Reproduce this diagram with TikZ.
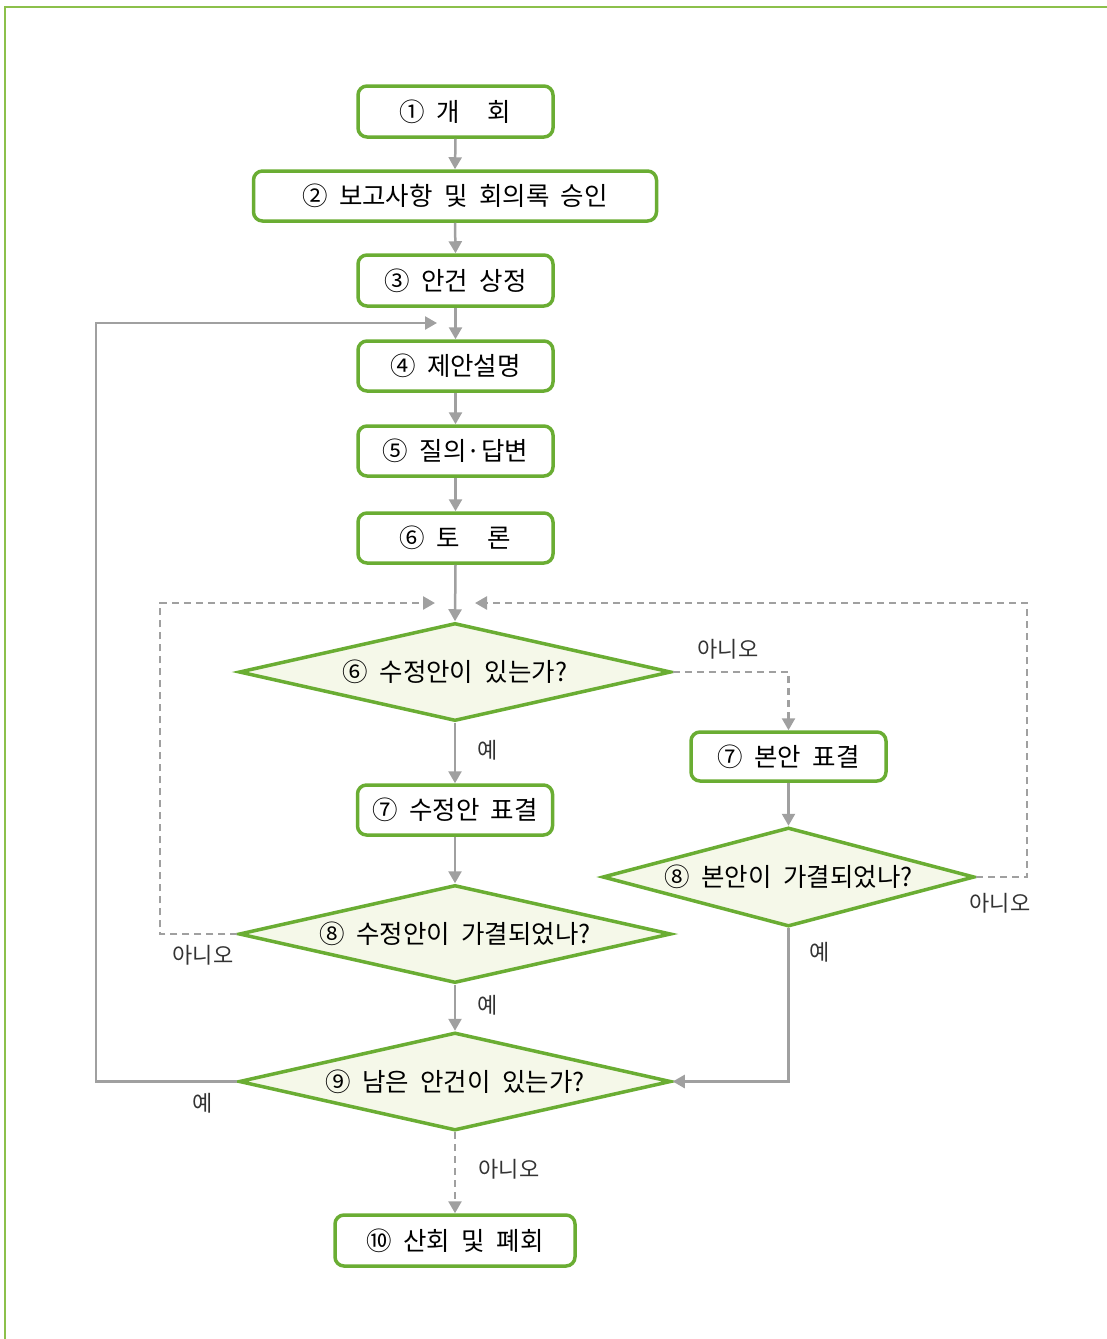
\documentclass[tikz,border=0pt]{standalone}
\usepackage{fontspec}
\setmainfont{Noto Sans CJK KR}[WordSpace=2]
\usetikzlibrary{shapes.geometric,arrows.meta}
\definecolor{frm}{HTML}{8CC04B}
\definecolor{grn}{HTML}{6AAD33}
\definecolor{dfill}{HTML}{F5F8E9}
\definecolor{gl}{HTML}{A0A0A0}
\begin{document}
\begin{tikzpicture}[x=1pt,y=-1pt,
 box/.style={draw=grn,line width=3.5pt,rounded corners=9pt,fill=white,minimum width=195pt,minimum height=50pt,inner sep=0pt,font=\fontsize{25.5}{29}\selectfont},
 dia/.style={diamond,draw=grn,line width=3.5pt,fill=dfill,minimum width=432pt,minimum height=98pt,inner sep=0pt},
 dtext/.style={font=\fontsize{25.5}{29}\selectfont,inner sep=0pt},
 lbl/.style={font=\fontsize{22}{26}\selectfont,text=black!80,inner sep=0pt},
 con/.style={draw=gl,line width=2.5pt,-{Triangle[width=13pt,length=12pt]}},
 dcon/.style={con,dash pattern=on 7pt off 5pt}]
\path[use as bounding box] (0,0) rectangle (1107,1339);
\draw[frm,line width=2pt] (5,1339) -- (5,7) -- (1107,7);

% boxes
\node[box,minimum height=51pt] (b1) at (455.5,111.5) {① 개\hspace{1.1em}회};
\node[box,minimum width=403pt] (b2) at (455,196) {② 보고사항 및 회의록 승인};
\node[box,minimum height=51pt] (b3) at (455.5,280.5) {③ 안건 상정};
\node[box] (b4) at (455.5,366) {④ 제안설명};
\node[box] (b5) at (455.5,451) {⑤ 질의·답변};
\node[box] (b6) at (455.5,538) {⑥ 토\hspace{1.1em}론};
\node[box,minimum height=49pt] (b7r) at (788.5,756.5) {⑦ 본안 표결};
\node[box] (b7l) at (455,810) {⑦ 수정안 표결};
\node[box,minimum width=240pt,minimum height=51pt] (b10) at (455,1240.5) {⑩ 산회 및 폐회};

% diamonds
\node[dia] (d1) at (455,672) {};
\node[dtext] (t1) at (d1) {⑥ 수정안이 있는가?};
\node[dia,minimum width=372pt,minimum height=99pt] (d8r) at (788.5,877) {};
\node[dtext] (t8r) at (d8r) {⑧ 본안이 가결되었나?};
\node[dia] (d8l) at (455,934) {};
\node[dtext] (t8l) at (d8l) {⑧ 수정안이 가결되었나?};
\node[dia] (d9) at (455,1081.5) {};
\node[dtext] (t9) at (d9) {⑨ 남은 안건이 있는가?};

% junction coordinates
\coordinate (jl) at (437,323);
\coordinate (lp) at (96,323);
\coordinate (ll) at (160,603);
\coordinate (jl2) at (435,603);
\coordinate (rr) at (1027,603);
\coordinate (jr2) at (475,603);

% connectors
\draw[con] (b1.south) -- (b2.north);
\draw[con] (b2.south) -- (b3.north);
\draw[con] (b3.south) -- (b4.north);
\draw[con] (b4.south) -- (b5.north);
\draw[con] (b5.south) -- (b6.north);
\draw[con] (b6.south) -- (d1.north);
\draw[con] (d9.west) -| (lp) -- (jl);
\draw[dcon] (d8l.west) -| (ll) -- (jl2);
\draw[dcon] (d8r.east) -| (rr) -- (jr2);
\draw[dcon] (d1.east) -| (b7r.north);
\draw[con] (d1.south) -- (b7l.north);
\draw[con] (b7r.south) -- (d8r.north);
\draw[con] (b7l.south) -- (d8l.north);
\draw[con] (d8l.south) -- (d9.north);
\draw[con] (d8r.south) |- (d9.east);
\draw[dcon] (d9.south) -- (b10.north);

% labels
\node[lbl] (n1) at (728,649) {아니오};
\node[lbl] (y1) at (488,750) {예};
\node[lbl] (n2) at (1000,903) {아니오};
\node[lbl] (n3) at (203,955) {아니오};
\node[lbl] (y2) at (488,1005) {예};
\node[lbl] (y3) at (820,952) {예};
\node[lbl] (y4) at (203,1103) {예};
\node[lbl] (n4) at (509,1169) {아니오};
\end{tikzpicture}
\end{document}
